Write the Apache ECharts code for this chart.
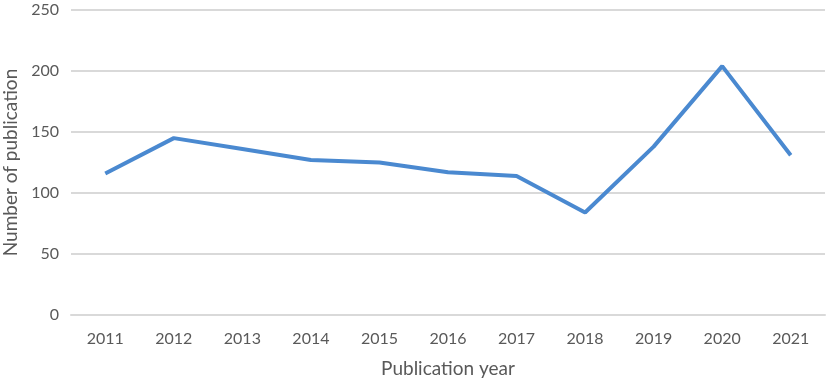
<!DOCTYPE html>
<html>
<head>
<meta charset="utf-8">
<script src="https://cdn.jsdelivr.net/npm/echarts@6/dist/echarts.min.js"></script>
<style>
html,body{margin:0;padding:0;background:#fff;}
#chart{width:829px;height:383px;}
</style>
</head>
<body>
<div id="chart"></div>
<script>
var years = ['2011','2012','2013','2014','2015','2016','2017','2018','2019','2020','2021'];
var publications = [116, 145, 136, 127, 125, 117, 114, 84, 138, 204, 131];
var yTicks = [0, 50, 100, 150, 200, 250];

var txt = '#595959';
var fnt = 'Lato, "Open Sans", sans-serif';

var chart = echarts.init(document.getElementById('chart'));
chart.setOption({
	animation: false,
	grid: {left: 71, right: 4, top: 10, bottom: 68, containLabel: false, outerBoundsMode: 'none'},
	xAxis: {
		type: 'category',
		data: years,
		boundaryGap: true,
		name: 'Publication year',
		nameLocation: 'middle',
		nameGap: 44,
		nameTextStyle: {color: txt, fontSize: 19, fontFamily: fnt},
		axisLine: {show: true, lineStyle: {color: '#d9d9d9', width: 2}},
		axisTick: {show: false},
		axisLabel: {color: txt, fontSize: 16, fontFamily: fnt, margin: 16}
	},
	yAxis: {
		type: 'value',
		min: yTicks[0],
		max: yTicks[yTicks.length - 1],
		interval: 50,
		name: 'Number of publication',
		nameLocation: 'middle',
		nameGap: 45,
		nameTextStyle: {color: txt, fontSize: 19, fontFamily: fnt},
		axisLine: {show: false},
		axisTick: {show: false},
		axisLabel: {color: txt, fontSize: 16, fontFamily: fnt, margin: 12},
		splitLine: {lineStyle: {color: '#d9d9d9', width: 2}}
	},
	series: [{
		type: 'line',
		data: publications,
		symbol: 'none',
		lineStyle: {color: '#4a89d0', width: 4}
	}]
});
</script>
</body>
</html>
